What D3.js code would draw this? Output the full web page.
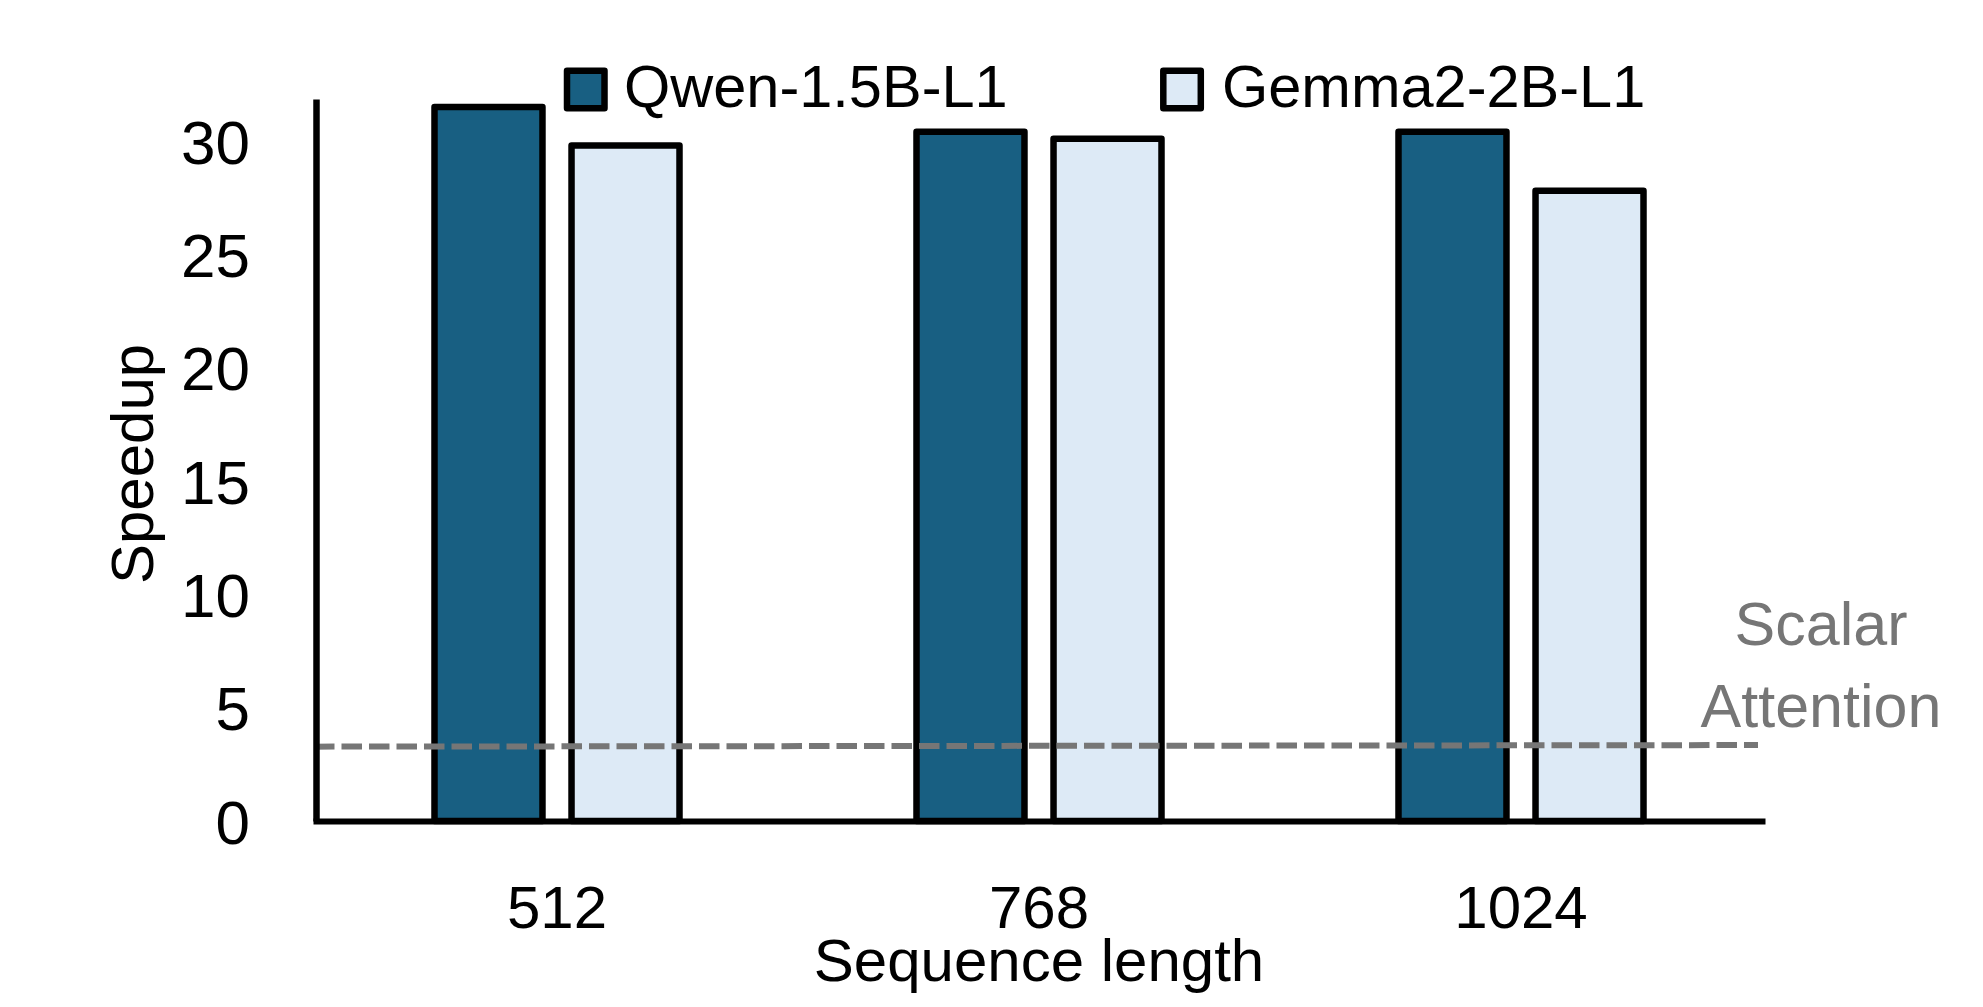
<!DOCTYPE html>
<html>
<head>
<meta charset="utf-8">
<script src="https://cdn.jsdelivr.net/npm/d3@7"></script>
<style>
  html, body { margin: 0; padding: 0; background: #ffffff; }
  svg { display: block; }
  text { font-family: "Liberation Sans", Arial, sans-serif; }
</style>
</head>
<body>
<svg id="chart" width="1983" height="1007"></svg>
<script>
// ---- data ----
const categories = ["512", "768", "1024"];
const seriesNames = ["Qwen-1.5B-L1", "Gemma2-2B-L1"];
const qwenValues = [31.5, 30.4, 30.4];
const gemmaValues = [29.8, 30.1, 27.8];
const yTickValues = [0, 5, 10, 15, 20, 25, 30];
const scalarAttentionLine = [3.28, 3.35]; // left end, right end
const scalarLabelLines = ["Scalar", "Attention"];
const xAxisTitle = "Sequence length";
const yAxisTitle = "Speedup";
const yMax = 31.85;

// ---- layout ----
const W = 1983, H = 1007;
const plot = { left: 316, right: 1762, top: 99, bottom: 821 };
const colors = { "Qwen-1.5B-L1": "#185F82", "Gemma2-2B-L1": "#DDEAF6" };
const strokeW = 6.5;

const svg = d3.select("#chart");
svg.append("rect").attr("width", W).attr("height", H).attr("fill", "#fff");

const x0 = d3.scaleBand().domain(categories).range([plot.left, plot.right])
  .paddingInner(0.4917).paddingOuter(0.4917 / 2);
const x1 = d3.scaleBand().domain(seriesNames).range([0, x0.bandwidth()]).paddingInner(0.212);
const y = d3.scaleLinear().domain([0, yMax]).range([plot.bottom, plot.top]);

const rows = categories.map((c, i) => ({
  cat: c,
  values: [
    { s: seriesNames[0], v: qwenValues[i] },
    { s: seriesNames[1], v: gemmaValues[i] }
  ]
}));

// bars
const g = svg.append("g");
g.selectAll("g.grp").data(rows).join("g").attr("class", "grp")
  .attr("transform", d => `translate(${x0(d.cat)},0)`)
  .selectAll("rect").data(d => d.values).join("rect")
  .attr("x", d => x1(d.s))
  .attr("y", d => y(d.v))
  .attr("width", x1.bandwidth())
  .attr("height", d => y(0) - y(d.v))
  .attr("fill", d => colors[d.s])
  .attr("stroke", "#000")
  .attr("stroke-width", strokeW)
  .attr("stroke-linejoin", "round");

// dashed scalar attention line
svg.append("line")
  .attr("x1", plot.left - 2).attr("x2", plot.right - 4)
  .attr("y1", y(scalarAttentionLine[0])).attr("y2", y(scalarAttentionLine[1]))
  .attr("stroke", "#767676").attr("stroke-width", 6)
  .attr("stroke-dasharray", "20.5 7");

// y axis
const yAxis = svg.append("g").attr("transform", `translate(${plot.left},0)`)
  .call(d3.axisLeft(y).tickValues(yTickValues).tickSize(0).tickSizeOuter(0).tickPadding(66));
yAxis.select(".domain").attr("stroke", "#000").attr("stroke-width", strokeW);
yAxis.selectAll("text").attr("font-size", 62).attr("fill", "#000")
  .attr("dy", "0.36em").style("font-family", '"Liberation Sans", Arial, sans-serif');

// x axis
const xAxis = svg.append("g").attr("transform", `translate(0,${plot.bottom})`)
  .call(d3.axisBottom(x0).tickSize(0).tickSizeOuter(0).tickPadding(64.4));
xAxis.select(".domain").attr("stroke", "#000").attr("stroke-width", 6)
  .attr("stroke-linecap", "square");
xAxis.selectAll("text").attr("font-size", 60).attr("fill", "#000")
  .style("font-family", '"Liberation Sans", Arial, sans-serif');

// axis titles
svg.append("text").attr("x", (plot.left + plot.right) / 2).attr("y", 981)
  .attr("text-anchor", "middle").attr("font-size", 60).attr("fill", "#000")
  .text(xAxisTitle);
svg.append("text").attr("transform", "translate(153,464) rotate(-90)")
  .attr("text-anchor", "middle").attr("font-size", 60).attr("fill", "#000")
  .text(yAxisTitle);

// scalar attention label
svg.append("g").selectAll("text").data(scalarLabelLines).join("text")
  .attr("x", 1821).attr("y", (d, i) => 645 + i * 81.7)
  .attr("text-anchor", "middle").attr("font-size", 61).attr("fill", "#767676")
  .text(d => d);

// legend
const legendPos = [{ sx: 567, tx: 624 }, { sx: 1163.3, tx: 1222 }];
const leg = svg.append("g").selectAll("g").data(seriesNames).join("g");
leg.append("rect")
  .attr("x", (d, i) => legendPos[i].sx).attr("y", 70.7)
  .attr("width", 37.5).attr("height", 37.5)
  .attr("fill", d => colors[d]).attr("stroke", "#000")
  .attr("stroke-width", strokeW).attr("stroke-linejoin", "round");
leg.append("text")
  .attr("x", (d, i) => legendPos[i].tx).attr("y", 107.3)
  .attr("font-size", 59.5).attr("fill", "#000")
  .text(d => d);
</script>
</body>
</html>
